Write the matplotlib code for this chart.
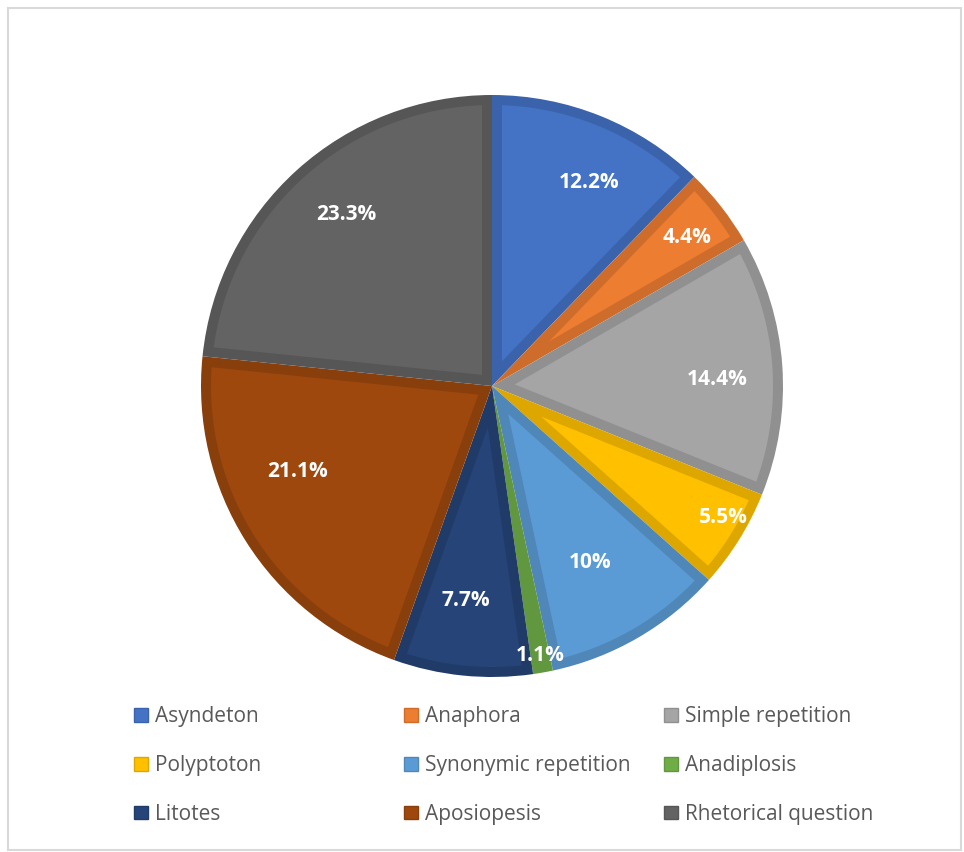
"""
Pie chart of rhetorical devices, share of all occurrences.
"""

import matplotlib.pyplot as plt
import matplotlib.colors as mcolors
from matplotlib.patches import Patch, Rectangle, Polygon
import numpy as np

# Data.
devices = ["Asyndeton", "Anaphora", "Simple repetition",
           "Polyptoton", "Synonymic repetition", "Anadiplosis",
           "Litotes", "Aposiopesis", "Rhetorical question"]
shares = [12.2, 4.4, 14.4, 5.5, 10, 1.1, 7.7, 21.1, 23.3]
share_labels = ["12.2%", "4.4%", "14.4%", "5.5%", "10%", "1.1%",
                "7.7%", "21.1%", "23.3%"]

# Office style colours.
colors = ["#4472C4", "#ED7D31", "#A5A5A5", "#FFC000", "#5B9BD5",
          "#70AD47", "#264478", "#9E480E", "#636363"]
# Label placement: distance from centre (fraction of radius), angle nudge (deg).
label_dist = [0.775, 0.843, 0.774, 0.914, 0.693, 0.939, 0.742, 0.73, 0.772]
label_nudge = [-3.5, -0.8, -2.5, 2.2, -1.1, 0.0, -1.1, -8.4, -1.7]

plt.rcParams['font.family'] = ['Open Sans', 'DejaVu Sans']

W, H = 964, 852
fig = plt.figure(figsize=(W / 100, H / 100), dpi=100)

# light gray frame around the chart area
fig.patches.append(Rectangle((8 / W, 2 / H), 953 / W, 842 / H,
                             transform=fig.transFigure, fill=False,
                             edgecolor="#D9D9D9", linewidth=1.5))

cx, cy, r = 492, 386, 291
ax = fig.add_axes([(cx - r) / W, (H - cy - r) / H, 2 * r / W, 2 * r / H])

# darker shade of each colour forms the slice border
edge_colors = [tuple(np.array(mcolors.to_rgb(c)) * 0.87) for c in colors]
wedges, _ = ax.pie(shares, colors=edge_colors, startangle=90,
                   counterclock=False, radius=1.0,
                   wedgeprops=dict(linewidth=0))

# inner, lighter part of each slice: wedge shrunk by the border width
bw = 10.0 / r
for w, col in zip(wedges, colors):
    t1, t2 = np.deg2rad(w.theta1), np.deg2rad(w.theta2)
    half = (t2 - t1) / 2
    apex = bw / np.sin(half)
    R = 1.0 - bw
    if apex >= R:
        continue
    a1 = t1 + np.arcsin(bw / R)
    a2 = t2 - np.arcsin(bw / R)
    arc = np.linspace(a1, a2, 80)
    mid = t1 + half
    pts = [(apex * np.cos(mid), apex * np.sin(mid))]
    pts += list(zip(R * np.cos(arc), R * np.sin(arc)))
    ax.add_patch(Polygon(pts, closed=True, facecolor=col, edgecolor="none"))

total = sum(shares)
start = 90.0
for val, lab, d, nd in zip(shares, share_labels, label_dist, label_nudge):
    span = 360.0 * val / total
    mid = np.deg2rad(start - span / 2 + nd)
    ax.text(d * np.cos(mid), d * np.sin(mid), lab, ha="center", va="center",
            color="white", fontsize=15, fontweight="bold")
    start -= span

ax.set_xlim(-1, 1)
ax.set_ylim(-1, 1)
ax.set_aspect("equal")
ax.axis("off")

# legend: three columns, each its own legend so the columns sit where they should
col_x = [134, 404, 664]
for c in range(3):
    handles = [Patch(facecolor=colors[i], edgecolor=edge_colors[i])
               for i in range(c, 9, 3)]
    labels = [devices[i] for i in range(c, 9, 3)]
    fig.legend(handles, labels, loc="upper left",
               bbox_to_anchor=(col_x[c] / W, (H - 706) / H),
               frameon=False, fontsize=15, labelcolor="#595959",
               handlelength=0.65, handleheight=0.65, handletextpad=0.35,
               labelspacing=1.34, borderaxespad=0, borderpad=0)

fig.savefig("out.png", dpi=100)
